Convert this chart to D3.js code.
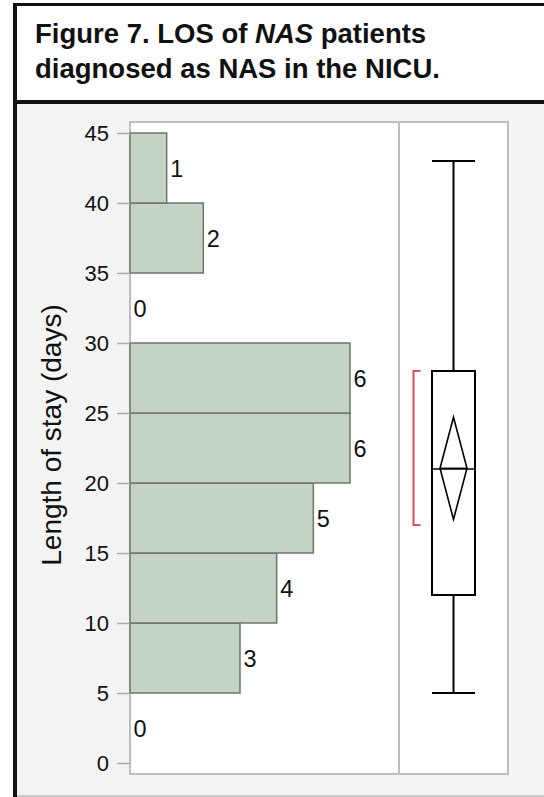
<!DOCTYPE html>
<html>
<head>
<meta charset="utf-8">
<script src="https://cdn.jsdelivr.net/npm/d3@7/dist/d3.min.js"></script>
<style>
  html, body { margin: 0; padding: 0; background: #fff; }
  svg { display: block; }
</style>
</head>
<body>
<svg id="chart" width="544" height="797"></svg>
<script>
// ---- data ----
const binStarts = [0, 5, 10, 15, 20, 25, 30, 35, 40];
const binEnds   = [5, 10, 15, 20, 25, 30, 35, 40, 45];
const counts    = [0, 3, 4, 5, 6, 6, 0, 2, 1];
const yTicks    = [0, 5, 10, 15, 20, 25, 30, 35, 40, 45];
const boxFive   = [5, 12, 21, 28, 43];      // min, q1, median, q3, max
const meanCI    = [17.4, 21.05, 24.7];      // lower, mean, upper
const shortestHalf = [17, 28];

const svg = d3.select("#chart");
const font = "'Liberation Sans', Arial, Helvetica, sans-serif";

// ---- frame / title ----
svg.append("rect").attr("x", 0).attr("y", 0).attr("width", 544).attr("height", 797).attr("fill", "#fff");
svg.append("rect").attr("x", 15).attr("y", 102).attr("width", 529).attr("height", 694).attr("fill", "#f4f4f4");
svg.append("rect").attr("x", 13).attr("y", 3).attr("width", 531).attr("height", 3).attr("fill", "#111");
svg.append("rect").attr("x", 13).attr("y", 100).attr("width", 531).attr("height", 4).attr("fill", "#111");
svg.append("rect").attr("x", 13).attr("y", 3).attr("width", 4).attr("height", 794).attr("fill", "#111");
svg.append("line").attr("x1", 17).attr("x2", 544).attr("y1", 796).attr("y2", 796)
  .attr("stroke", "#bbb").attr("stroke-width", 1.5);

const t1 = svg.append("text").attr("x", 35).attr("y", 43)
  .attr("font-family", font).attr("font-size", 27.5).attr("font-weight", "bold").attr("fill", "#111");
t1.append("tspan").text("Figure 7. LOS of ");
t1.append("tspan").attr("font-style", "italic").text("NAS");
t1.append("tspan").text(" patients");
svg.append("text").attr("x", 35).attr("y", 78)
  .attr("font-family", font).attr("font-size", 27.5).attr("font-weight", "bold").attr("fill", "#111")
  .text("diagnosed as NAS in the NICU.");

// ---- scales ----
const y = d3.scaleLinear().domain([-0.786, 45.786]).range([774, 122]);
const x = d3.scaleLinear().domain([0, 6]).range([130, 350]);
const panelL = 130, panelMid = 399, panelR = 508;

// plot background
svg.append("rect").attr("x", panelL).attr("y", y(45.786)).attr("width", panelR - panelL)
  .attr("height", y(-0.786) - y(45.786)).attr("fill", "#fff")
  .attr("stroke", "#bdbdbd").attr("stroke-width", 2);
svg.append("line").attr("x1", panelMid).attr("x2", panelMid)
  .attr("y1", y(45.786)).attr("y2", y(-0.786)).attr("stroke", "#bdbdbd").attr("stroke-width", 2);

// ---- histogram ----
const bins = binStarts.map((s, i) => ({ s, e: binEnds[i], c: counts[i] }));
svg.append("g").selectAll("rect").data(bins.filter(d => d.c > 0)).join("rect")
  .attr("x", x(0)).attr("y", d => y(d.e)).attr("width", d => x(d.c) - x(0))
  .attr("height", d => y(d.s) - y(d.e))
  .attr("fill", "#c5d3c5").attr("stroke", "#6c756c").attr("stroke-width", 1.5);

svg.append("g").selectAll("text").data(bins).join("text")
  .attr("x", d => x(d.c) + 3.5).attr("y", d => y((d.s + d.e) / 2) + 9)
  .attr("font-family", font).attr("font-size", 23.5).attr("fill", "#111")
  .text(d => d.c);

// ---- y axis ----
const axis = d3.axisLeft(y).tickValues(yTicks).tickSize(13).tickPadding(8);
const ga = svg.append("g").attr("transform", `translate(${panelL},0)`).call(axis);
ga.select(".domain").remove();
ga.selectAll(".tick line").attr("stroke", "#aaa").attr("stroke-width", 1.5);
ga.selectAll(".tick text").attr("font-family", font).attr("font-size", 22).attr("fill", "#111");

svg.append("text").attr("transform", `translate(61,435) rotate(-90)`)
  .attr("text-anchor", "middle").attr("font-family", font).attr("font-size", 28).attr("fill", "#111")
  .text("Length of stay (days)");

// ---- box plot ----
const cx = (panelMid + panelR) / 2;
const bw = 43;
const g = svg.append("g").attr("fill", "none").attr("stroke", "#000");
g.append("line").attr("x1", cx).attr("x2", cx).attr("y1", y(boxFive[4])).attr("y2", y(boxFive[3])).attr("stroke-width", 2);
g.append("line").attr("x1", cx).attr("x2", cx).attr("y1", y(boxFive[1])).attr("y2", y(boxFive[0])).attr("stroke-width", 2);
[boxFive[0], boxFive[4]].forEach(v => {
  g.append("line").attr("x1", cx - bw / 2).attr("x2", cx + bw / 2).attr("y1", y(v)).attr("y2", y(v)).attr("stroke-width", 2);
});
g.append("rect").attr("x", cx - bw / 2).attr("y", y(boxFive[3])).attr("width", bw)
  .attr("height", y(boxFive[1]) - y(boxFive[3])).attr("stroke-width", 2);
g.append("line").attr("x1", cx - bw / 2).attr("x2", cx + bw / 2).attr("y1", y(boxFive[2])).attr("y2", y(boxFive[2])).attr("stroke-width", 1.5);
const dw = 13.5;
g.append("path").attr("stroke-width", 1.6)
  .attr("d", `M${cx},${y(meanCI[2])} L${cx + dw},${y(meanCI[1])} L${cx},${y(meanCI[0])} L${cx - dw},${y(meanCI[1])} Z`);
g.append("line").attr("x1", cx - dw).attr("x2", cx + dw).attr("y1", y(meanCI[1])).attr("y2", y(meanCI[1])).attr("stroke-width", 1.5);

// shortest half bracket
const bx = 413.5;
svg.append("path").attr("fill", "none").attr("stroke", "#e8485c").attr("stroke-width", 2)
  .attr("d", `M${bx + 7},${y(shortestHalf[1])} H${bx} V${y(shortestHalf[0])} H${bx + 7}`);
</script>
</body>
</html>
